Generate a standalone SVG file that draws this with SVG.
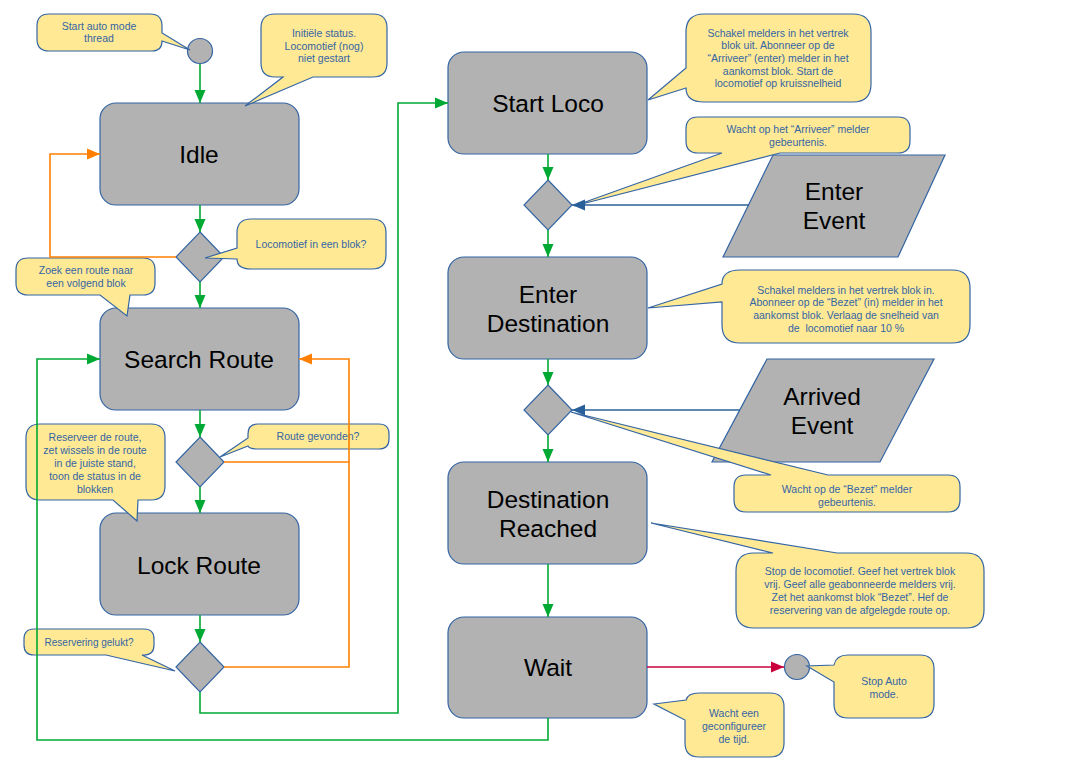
<svg xmlns="http://www.w3.org/2000/svg" width="1086" height="768" viewBox="0 0 1086 768">
<style>
.node{fill:#b2b2b2;stroke:#3465a4;stroke-width:1.2}
.call{fill:#ffe994;stroke:#3465a4;stroke-width:1.2}
.nt{font-family:"Liberation Sans",Arial,sans-serif;font-size:24.5px;fill:#000;text-anchor:middle}
.ct{font-family:"Liberation Sans",Arial,sans-serif;font-size:10.5px;fill:#3465a4;text-anchor:middle}
.g{stroke:#00a933;stroke-width:1.6;fill:none}
.o{stroke:#ff8000;stroke-width:1.6;fill:none}
.b{stroke:#2a6099;stroke-width:1.6;fill:none}
.r{stroke:#c9003c;stroke-width:1.6;fill:none}
</style>
<defs>
<marker id="ag" markerUnits="userSpaceOnUse" markerWidth="14" markerHeight="14" refX="13" refY="7" orient="auto"><path d="M0,1.5 L13,7 L0,12.5Z" fill="#00a933"/></marker>
<marker id="ao" markerUnits="userSpaceOnUse" markerWidth="14" markerHeight="14" refX="13" refY="7" orient="auto"><path d="M0,1.5 L13,7 L0,12.5Z" fill="#ff8000"/></marker>
<marker id="ab" markerUnits="userSpaceOnUse" markerWidth="14" markerHeight="14" refX="13" refY="7" orient="auto"><path d="M0,1.5 L13,7 L0,12.5Z" fill="#2a6099"/></marker>
<marker id="ar" markerUnits="userSpaceOnUse" markerWidth="14" markerHeight="14" refX="13" refY="7" orient="auto"><path d="M0,1.5 L13,7 L0,12.5Z" fill="#c9003c"/></marker>
</defs>
<rect width="1086" height="768" fill="#fff"/>

<g id="start"><circle class="node" cx="200" cy="51" r="12.5"/></g>
<g id="idle"><rect class="node" x="100" y="103" width="199" height="102" rx="16"/><text class="nt" x="199" y="163">Idle</text></g>
<g id="d1"><path class="node" d="M200,232 L224,257 L200,282 L176,257Z"/></g>
<g id="search"><rect class="node" x="100" y="308" width="199" height="102" rx="16"/><text class="nt" x="199" y="368">Search Route</text></g>
<g id="d2"><path class="node" d="M200,437 L224,462 L200,487 L176,462Z"/></g>
<g id="lock"><rect class="node" x="100" y="513" width="199" height="102" rx="16"/><text class="nt" x="199" y="574">Lock Route</text></g>
<g id="d3"><path class="node" d="M200,642 L224,667 L200,692 L176,667Z"/></g>
<g id="startloco"><rect class="node" x="448" y="52" width="199" height="102" rx="16"/><text class="nt" x="548" y="112">Start Loco</text></g>
<g id="d4"><path class="node" d="M548,180 L572,205 L548,230 L524,205Z"/></g>
<g id="enterevent"><path class="node" d="M773,155 H945 L898,257 H723Z"/><text class="nt" x="834" y="200">Enter</text><text class="nt" x="834" y="229">Event</text></g>
<g id="enterdest"><rect class="node" x="448" y="257" width="199" height="102" rx="16"/><text class="nt" x="548" y="303">Enter</text><text class="nt" x="548" y="332">Destination</text></g>
<g id="d5"><path class="node" d="M548,385 L572,410 L548,435 L524,410Z"/></g>
<g id="arrivedevent"><path class="node" d="M767,359 H934 L880,462 H712Z"/><text class="nt" x="822" y="405">Arrived</text><text class="nt" x="822" y="434">Event</text></g>
<g id="destreached"><rect class="node" x="448" y="462" width="199" height="102" rx="16"/><text class="nt" x="548" y="508">Destination</text><text class="nt" x="548" y="537">Reached</text></g>
<g id="wait"><rect class="node" x="448" y="617" width="199" height="101" rx="16"/><text class="nt" x="548" y="676">Wait</text></g>
<g id="end"><circle class="node" cx="797" cy="667" r="12.5"/></g>

<g id="c1"><path class="call" d="M49,14 H150 Q162,14 162,26 V33 L190,50 L162,41 Q162,51 152,51 H49 Q37,51 37,39 V26 Q37,14 49,14Z"/><text class="ct" x="99" y="30">Start auto mode</text><text class="ct" x="99" y="42">thread</text></g>
<g id="c2"><path class="call" d="M275,14 H373 Q387,14 387,28 V63 Q387,77 373,77 H313 L245,106 L283,77 H275 Q261,77 261,63 V28 Q261,14 275,14Z"/><text class="ct" x="324" y="37">Initiële status.</text><text class="ct" x="324" y="50">Locomotief (nog)</text><text class="ct" x="324" y="62">niet gestart</text></g>
<g id="c3"><path class="call" d="M251,219 H372 Q386,219 386,233 V255 Q386,269 372,269 H251 Q237,269 237,259 L205,258 L237,248 V233 Q237,219 251,219Z"/><text class="ct" x="311" y="248">Locomotief in een blok?</text></g>
<g id="c4"><path class="call" d="M28,258 H143 Q155,258 155,270 V283 Q155,295 143,295 H130 L127,316 L100,295 H28 Q16,295 16,283 V270 Q16,258 28,258Z"/><text class="ct" x="86" y="274">Zoek een route naar</text><text class="ct" x="86" y="287">een volgend blok</text></g>
<g id="c5"><path class="call" d="M258,424 H379 Q389,424 389,434 V439 Q389,449 379,449 H258 Q249,449 248,446 L220,457 L248,438 V434 Q248,424 258,424Z"/><text class="ct" x="318" y="440">Route gevonden?</text></g>
<g id="c6"><path class="call" d="M40,424 H151 Q165,424 165,438 V486 Q165,500 151,500 H138 L137,521 L113,500 H40 Q26,500 26,486 V438 Q26,424 40,424Z"/><text class="ct" x="95" y="441">Reserveer de route,</text><text class="ct" x="95" y="454">zet wissels in de route</text><text class="ct" x="95" y="467">in de juiste stand,</text><text class="ct" x="95" y="480">toon de status in de</text><text class="ct" x="95" y="493">blokken</text></g>
<g id="c7"><path class="call" d="M34,629 H144 Q154,629 154,639 V645 Q154,655 144,655 H142 L175,671 L106,655 H34 Q24,655 24,645 V639 Q24,629 34,629Z"/><text class="ct" x="89" y="646" style="font-size:10px">Reservering gelukt?</text></g>
<g id="c8"><path class="call" d="M704,14 H853 Q871,14 871,32 V84 Q871,102 853,102 H704 Q686,102 686,88 L648,100 L686,68 V32 Q686,14 704,14Z"/><text class="ct" x="778" y="37">Schakel melders in het vertrek</text><text class="ct" x="778" y="49">blok uit. Abonneer op de</text><text class="ct" x="778" y="62">“Arriveer” (enter) melder in het</text><text class="ct" x="778" y="75">aankomst blok. Start de</text><text class="ct" x="778" y="87">locomotief op kruissnelheid</text></g>
<g id="c9"><path class="call" d="M698,117 H898 Q910,117 910,129 V141 Q910,153 898,153 H780 L574,206 L722,153 H698 Q686,153 686,141 V129 Q686,117 698,117Z"/><text class="ct" x="798" y="133">Wacht op het “Arriveer” melder</text><text class="ct" x="798" y="146">gebeurtenis.</text></g>
<g id="c10"><path class="call" d="M740,270 H952 Q970,270 970,288 V325 Q970,343 952,343 H740 Q722,343 722,325 V302 L648,308 L722,284 Q722,270 740,270Z"/><text class="ct" x="846" y="294">Schakel melders in het vertrek blok in.</text><text class="ct" x="846" y="306">Abonneer op de “Bezet” (in) melder in het</text><text class="ct" x="846" y="319">aankomst blok. Verlaag de snelheid van</text><text class="ct" x="846" y="332" xml:space="preserve">de  locomotief naar 10 %</text></g>
<g id="c11"><path class="call" d="M746,475 H771 L571,412 L828,475 H948 Q960,475 960,487 V500 Q960,512 948,512 H746 Q734,512 734,500 V487 Q734,475 746,475Z"/><text class="ct" x="847" y="493">Wacht op de “Bezet” melder</text><text class="ct" x="847" y="506">gebeurtenis.</text></g>
<g id="c12"><path class="call" d="M754,553 H773 L651,523 L837,553 H966 Q984,553 984,571 V610 Q984,628 966,628 H754 Q736,628 736,610 V571 Q736,553 754,553Z"/><text class="ct" x="860" y="575">Stop de locomotief. Geef het vertrek blok</text><text class="ct" x="860" y="588">vrij. Geef alle geabonneerde melders vrij.</text><text class="ct" x="860" y="601">Zet het aankomst blok “Bezet”. Hef de</text><text class="ct" x="860" y="614">reservering van de afgelegde route op.</text></g>
<g id="c13"><path class="call" d="M848,655 H920 Q934,655 934,669 V704 Q934,718 920,718 H848 Q834,718 834,704 V682 L807,666 L834,665 Q836,655 848,655Z"/><text class="ct" x="884" y="685">Stop Auto</text><text class="ct" x="884" y="698">mode.</text></g>
<g id="c14"><path class="call" d="M699,693 H770 Q784,693 784,707 V743 Q784,757 770,757 H699 Q685,757 685,743 V720 L654,704 L686,700 Q688,693 699,693Z"/><text class="ct" x="734" y="717">Wacht een</text><text class="ct" x="734" y="730">geconfigureer</text><text class="ct" x="734" y="743">de tijd.</text></g>

<g id="connectors">
<path class="g" d="M200,64 V103" marker-end="url(#ag)"/>
<path class="g" d="M200,205 V232" marker-end="url(#ag)"/>
<path class="g" d="M200,282 V308" marker-end="url(#ag)"/>
<path class="g" d="M200,410 V437" marker-end="url(#ag)"/>
<path class="g" d="M200,487 V513" marker-end="url(#ag)"/>
<path class="g" d="M200,615 V642" marker-end="url(#ag)"/>
<path class="o" d="M176,257 H50 V154 H100" marker-end="url(#ao)"/>
<path class="o" d="M224,462 H349 V359 H299" marker-end="url(#ao)"/>
<path class="o" d="M224,667 H349 V462"/>
<path class="g" d="M200,692 V713 H398 V103 H448" marker-end="url(#ag)"/>
<path class="g" d="M548,718 V740 H37 V359 H100" marker-end="url(#ag)"/>
<path class="g" d="M548,154 V180" marker-end="url(#ag)"/>
<path class="g" d="M548,230 V257" marker-end="url(#ag)"/>
<path class="g" d="M548,359 V385" marker-end="url(#ag)"/>
<path class="g" d="M548,435 V462" marker-end="url(#ag)"/>
<path class="g" d="M548,564 V617" marker-end="url(#ag)"/>
<path class="b" d="M749,205 H572" marker-end="url(#ab)"/>
<path class="b" d="M740,410 H572" marker-end="url(#ab)"/>
<path class="r" d="M647,667 H784" marker-end="url(#ar)"/>
</g>
</svg>
